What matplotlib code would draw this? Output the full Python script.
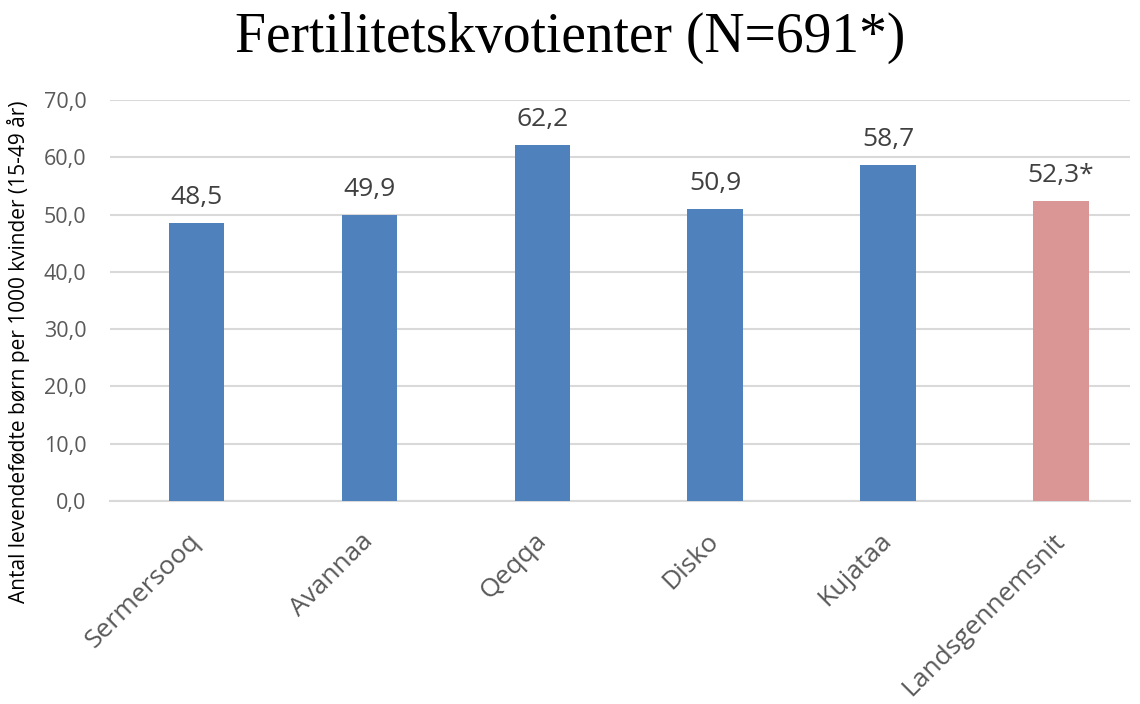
import matplotlib.pyplot as plt
import numpy as np

regions = ['Sermersooq', 'Avannaa', 'Qeqqa', 'Disko', 'Kujataa', 'Landsgennemsnit']
values = [48.5, 49.9, 62.2, 50.9, 58.7, 52.3]
labels = ['48,5', '49,9', '62,2', '50,9', '58,7', '52,3*']
colors = ['#4F81BD'] * 5 + ['#D99694']

plt.rcParams['font.family'] = ['Open Sans', 'DejaVu Sans']

fig = plt.figure(figsize=(11.4, 7.04), dpi=100)
ax = fig.add_axes([110 / 1140, 1 - 501 / 704, 1020 / 1140, 401 / 704])

x = np.arange(len(regions))
bars = ax.bar(x, values, width=0.32, color=colors, zorder=3)

for xi, v, lab in zip(x, values, labels):
    ax.text(xi, v + 2.3, lab, ha='center', va='bottom', fontsize=19, color='#404040')

ax.set_ylim(0, 70)
ax.set_xlim(-0.5, 5.4)
ax.set_yticks(np.arange(0, 71, 10))
ax.set_yticklabels([f'{t:.1f}'.replace('.', ',') for t in np.arange(0, 71, 10)])
ax.yaxis.grid(True, color='#D9D9D9', linewidth=1.5, zorder=0)
ax.tick_params(axis='y', length=0, labelsize=15.5, labelcolor='#595959', pad=17)
ax.tick_params(axis='x', length=0, labelsize=19, labelcolor='#595959', pad=26)
ax.set_xticks(x)
ax.set_xticklabels(regions, rotation=45, ha='right', va='center', rotation_mode='anchor')
for s in ['top', 'right', 'left']:
    ax.spines[s].set_visible(False)
ax.spines['bottom'].set_color('#D9D9D9')
ax.spines['bottom'].set_linewidth(1.5)

ax.set_ylabel('Antal levendefødte børn per 1000 kvinder (15-49 år)', fontsize=15, color='black')
ax.yaxis.set_label_coords(-80 / 1020, (501 - 352) / 401)
fig.text(0.5, 1 - 38 / 704, 'Fertilitetskvotienter (N=691*)', ha='center', va='center',
         fontsize=40, family=['Liberation Serif', 'DejaVu Serif'])

fig.savefig('out.png', dpi=100)
